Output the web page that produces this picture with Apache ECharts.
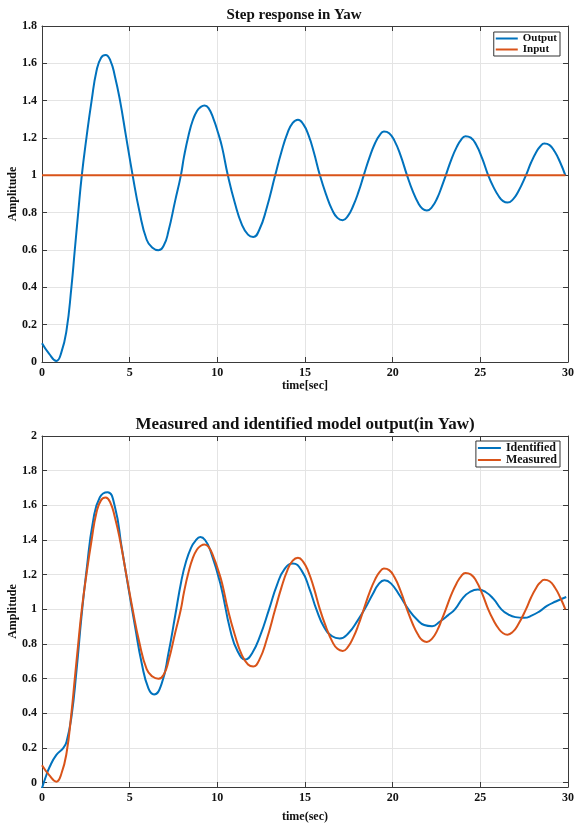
<!DOCTYPE html>
<html>
<head>
<meta charset="utf-8">
<script src="https://cdn.jsdelivr.net/npm/echarts@6/dist/echarts.min.js"></script>
<style>html,body{margin:0;padding:0;background:#fff}#c{width:574px;height:825px}</style>
</head>
<body>
<div id="c"></div>
<script>
// ---- data ----
const topTitle = 'Step response in Yaw';
const bottomTitle = 'Measured and identified model output(in Yaw)';
const xTicks = [0, 5, 10, 15, 20, 25, 30];
const yTicksTop = [0, 0.2, 0.4, 0.6, 0.8, 1, 1.2, 1.4, 1.6, 1.8];
const yTicksBottom = [0, 0.2, 0.4, 0.6, 0.8, 1, 1.2, 1.4, 1.6, 1.8, 2];

// measured / step output (same curve in both panels)
const tMeasured = [0, 0.4, 0.82, 1.1, 1.4, 1.68, 1.87, 2.06, 2.27, 2.54, 2.83, 3.11, 3.37, 3.63, 3.9, 4.16, 4.45, 4.79, 5.17, 5.55, 5.97, 6.3, 6.64, 6.95, 7.21, 7.6, 7.92, 8.1, 8.36, 8.6, 8.84, 9.05, 9.27, 9.5, 9.79, 10.05, 10.27, 10.6, 11.0, 11.4, 11.75, 12.05, 12.4, 12.8, 13.3, 13.65, 14.0, 14.3, 14.6, 14.9, 15.2, 15.5, 15.85, 16.2, 16.55, 16.85, 17.15, 17.45, 17.75, 18.05, 18.35, 18.7, 19.0, 19.25, 19.5, 19.8, 20.1, 20.45, 20.82, 21.15, 21.45, 21.7, 21.95, 22.25, 22.55, 22.8, 23.03, 23.35, 23.65, 23.9, 24.15, 24.45, 24.75, 25.1, 25.45, 25.75, 26.05, 26.3, 26.55, 26.85, 27.15, 27.6, 27.9, 28.2, 28.4, 28.65, 28.95, 29.25, 29.55, 29.85];
const measured = [0.10, 0.045, 0.006, 0.05, 0.171, 0.403, 0.60, 0.795, 1.0, 1.205, 1.40, 1.56, 1.63, 1.645, 1.615, 1.53, 1.40, 1.21, 1.0, 0.81, 0.655, 0.612, 0.599, 0.625, 0.7, 0.866, 1.0, 1.10, 1.215, 1.295, 1.345, 1.366, 1.374, 1.36, 1.3, 1.225, 1.151, 1.0, 0.852, 0.736, 0.682, 0.67, 0.71, 0.82, 1.0, 1.124, 1.226, 1.281, 1.298, 1.274, 1.215, 1.125, 1.0, 0.898, 0.815, 0.772, 0.76, 0.783, 0.837, 0.911, 1.0, 1.102, 1.173, 1.214, 1.235, 1.226, 1.186, 1.107, 1.0, 0.914, 0.853, 0.821, 0.812, 0.831, 0.88, 0.94, 1.0, 1.086, 1.151, 1.19, 1.21, 1.202, 1.166, 1.092, 1.0, 0.937, 0.888, 0.862, 0.854, 0.87, 0.911, 1.0, 1.07, 1.126, 1.153, 1.17, 1.162, 1.126, 1.07, 1.0];

// step input
const tInput = [0, 29.85];
const inputVals = [1, 1];

// identified model output
const tIdentified = [0, 0.2, 0.44, 0.82, 1.2, 1.4, 1.68, 1.97, 2.25, 2.54, 2.92, 3.3, 3.74, 4.16, 4.54, 4.92, 5.31, 5.69, 6.07, 6.39, 6.83, 7.21, 7.6, 7.95, 8.2, 8.5, 8.75, 9.03, 9.3, 9.6, 10.17, 10.74, 11.15, 11.6, 12.0, 12.45, 12.95, 13.4, 13.85, 14.31, 14.8, 15.25, 15.65, 16.1, 16.55, 16.98, 17.5, 18.0, 18.4, 18.85, 19.2, 19.53, 19.9, 20.4, 20.9, 21.4, 21.8, 22.25, 22.7, 23.15, 23.55, 24.0, 24.4, 24.86, 25.3, 25.75, 26.2, 26.6, 27.0, 27.5, 27.95, 28.4, 28.8, 29.3, 29.9];
const identified = [-0.032, 0.03, 0.092, 0.16, 0.198, 0.236, 0.38, 0.649, 0.956, 1.225, 1.513, 1.647, 1.676, 1.59, 1.36, 1.129, 0.899, 0.688, 0.544, 0.509, 0.573, 0.745, 0.966, 1.165, 1.27, 1.355, 1.395, 1.417, 1.40, 1.34, 1.149, 0.88, 0.76, 0.711, 0.75, 0.85, 1.0, 1.14, 1.235, 1.264, 1.225, 1.12, 1.0, 0.895, 0.845, 0.832, 0.865, 0.935, 1.0, 1.085, 1.145, 1.168, 1.15, 1.08, 1.0, 0.94, 0.91, 0.903, 0.93, 0.965, 1.0, 1.065, 1.1, 1.114, 1.1, 1.06, 1.0, 0.97, 0.955, 0.951, 0.965, 0.99, 1.02, 1.045, 1.071];

const pairs = (t, v) => t.map((x, i) => [x, v[i]]);

// ---- styling ----
const FONT = '"Liberation Serif", "Times New Roman", serif';
const BLUE = '#0072BD', ORANGE = '#D95319';
const AX = '#3a3a3a', GRIDC = '#e4e4e4';

function xAx(gi, pos, show, name, gap) {
  return {
    type: 'value', gridIndex: gi, position: pos, min: 0, max: 30, interval: 5,
    axisLine: { show: true, onZero: false, lineStyle: { color: AX, width: 1 } },
    axisTick: { show: true, inside: true, length: 5, lineStyle: { color: AX } },
    axisLabel: { show: show, margin: 5, color: '#111', fontFamily: FONT, fontWeight: 'bold', fontSize: 12,
      customValues: xTicks },
    splitLine: { show: show, lineStyle: { color: GRIDC, width: 1 } },
    name: show ? name : '', nameLocation: 'middle', nameGap: gap || 18,
    nameTextStyle: { color: '#111', fontFamily: FONT, fontWeight: 'bold', fontSize: 12 }
  };
}
function yAx(gi, pos, show, min, max, ticks) {
  return {
    type: 'value', gridIndex: gi, position: pos, min: min, max: max,
    axisLine: { show: true, onZero: false, lineStyle: { color: AX, width: 1 } },
    axisTick: { show: true, inside: true, length: 5, lineStyle: { color: AX }, customValues: ticks },
    axisLabel: { show: show, margin: 5, color: '#111', fontFamily: FONT, fontWeight: 'bold', fontSize: 12,
      customValues: ticks },
    splitLine: { show: show, lineStyle: { color: GRIDC, width: 1 } },
    name: show ? 'Amplitude' : '', nameLocation: 'middle', nameGap: 23, nameMoveOverlap: false,
    nameTextStyle: { color: '#111', fontFamily: FONT, fontWeight: 'bold', fontSize: 12 }
  };
}
function legend(names, top, right, fs, lh, iw) {
  return {
    data: names, orient: 'vertical', top: top, right: right,
    icon: 'rect', itemWidth: iw, itemHeight: 2, itemGap: 0,
    padding: [1, 3, 1, 2],
    backgroundColor: '#fff', borderColor: '#333', borderWidth: 1, borderRadius: 0,
    textStyle: { color: '#111', fontFamily: FONT, fontWeight: 'bold', fontSize: fs, lineHeight: lh }
  };
}
function line(name, data, color, xi, yi) {
  return {
    name: name, type: 'line', data: data, xAxisIndex: xi, yAxisIndex: yi,
    showSymbol: false, smooth: 0.5, animation: false,
    lineStyle: { color: color, width: 2 }, itemStyle: { color: color }
  };
}

const chart = echarts.init(document.getElementById('c'), null, { renderer: 'canvas' });
chart.setOption({
  animation: false,
  backgroundColor: '#fff',
  title: [
    { text: topTitle, left: 289, top: 3, textAlign: 'center',
      textStyle: { fontFamily: FONT, fontWeight: 'bold', fontSize: 15, color: '#111' } },
    { text: bottomTitle, left: 300, top: 411, textAlign: 'center',
      textStyle: { fontFamily: FONT, fontWeight: 'bold', fontSize: 17, color: '#111' } }
  ],
  legend: [legend(['Output', 'Input'], 32, 14, 11, 11, 22), legend(['Identified', 'Measured'], 441, 14, 12, 12, 23)],
  grid: [
    { left: 42, right: 6, top: 26, height: 336, outerBoundsMode: 'none', containLabel: false },
    { left: 42, right: 6, top: 436, height: 351, outerBoundsMode: 'none', containLabel: false }
  ],
  xAxis: [xAx(0, 'bottom', true, 'time[sec]', 17), xAx(0, 'top', false, ''),
          xAx(1, 'bottom', true, 'time(sec)', 24), xAx(1, 'top', false, '')],
  yAxis: [yAx(0, 'left', true, 0, 1.8, yTicksTop), yAx(0, 'right', false, 0, 1.8, yTicksTop),
          yAx(1, 'left', true, -0.025, 2, yTicksBottom), yAx(1, 'right', false, -0.025, 2, yTicksBottom)],
  series: [
    line('Output', pairs(tMeasured, measured), BLUE, 0, 0),
    line('Input', pairs(tInput, inputVals), ORANGE, 0, 0),
    line('Identified', pairs(tIdentified, identified), BLUE, 2, 2),
    line('Measured', pairs(tMeasured, measured), ORANGE, 2, 2)
  ]
});
</script>
</body>
</html>
